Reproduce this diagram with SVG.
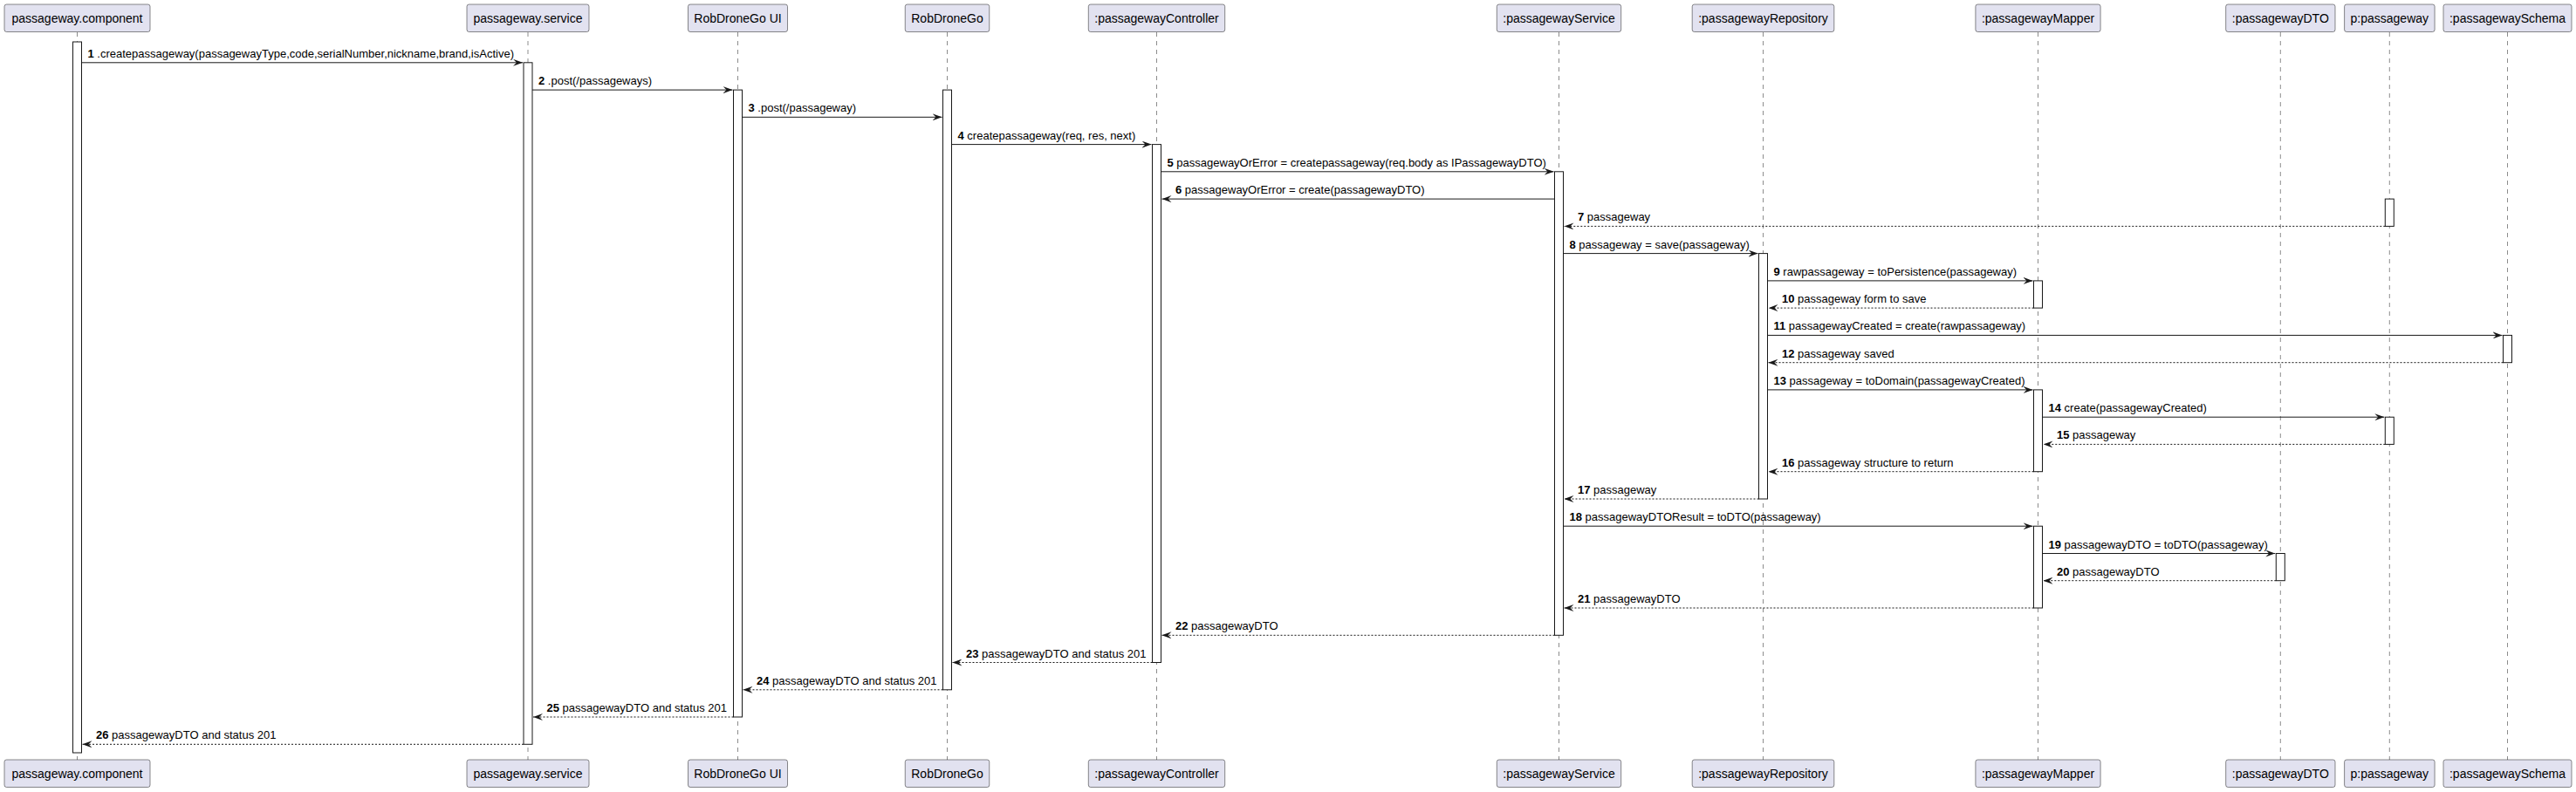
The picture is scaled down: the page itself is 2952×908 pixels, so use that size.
<svg xmlns="http://www.w3.org/2000/svg" width="2952" height="908" viewBox="0 0 2952 908">
<style>
.box{fill:#E2E2F0;stroke:#181818;stroke-width:0.5}
.pt{font-family:"Liberation Sans",Arial,sans-serif;font-size:14px;text-anchor:middle;fill:#000}
.life{stroke:#181818;stroke-width:0.5;stroke-dasharray:5,5;fill:none}
.act{fill:#FFFFFF;stroke:#181818;stroke-width:1}
.msg{stroke:#181818;stroke-width:1;fill:none;marker-end:url(#ah)}
.ret{stroke-dasharray:2,2}
.lbl{font-family:"Liberation Sans",Arial,sans-serif;font-size:13px;fill:#000}
.num{font-weight:bold}
</style>
<defs>
<marker id="ah" viewBox="0 0 11 8" refX="11" refY="4" markerWidth="11" markerHeight="8" markerUnits="userSpaceOnUse" orient="auto">
<path d="M0,0 L11,4 L0,8 L4,4 Z" fill="#181818"/>
</marker>
</defs>
<rect width="2952" height="908" fill="#FFFFFF"/>
<g id="lifelines">
<line class="life" x1="88.5" y1="37" x2="88.5" y2="871"/>
<line class="life" x1="605" y1="37" x2="605" y2="871"/>
<line class="life" x1="845.5" y1="37" x2="845.5" y2="871"/>
<line class="life" x1="1085.5" y1="37" x2="1085.5" y2="871"/>
<line class="life" x1="1325.5" y1="37" x2="1325.5" y2="871"/>
<line class="life" x1="1786.5" y1="37" x2="1786.5" y2="871"/>
<line class="life" x1="2020.5" y1="37" x2="2020.5" y2="871"/>
<line class="life" x1="2335.5" y1="37" x2="2335.5" y2="871"/>
<line class="life" x1="2613.3" y1="37" x2="2613.3" y2="871"/>
<line class="life" x1="2738.3" y1="37" x2="2738.3" y2="871"/>
<line class="life" x1="2873.5" y1="37" x2="2873.5" y2="871"/>
</g>
<g id="p-component">
<rect class="box" x="5" y="5" width="167" height="31.5" rx="2.5"/>
<text class="pt" x="88.5" y="26">passageway.component</text>
<rect class="box" x="5" y="871" width="167" height="31.5" rx="2.5"/>
<text class="pt" x="88.5" y="892">passageway.component</text>
<rect class="act" x="83.5" y="48" width="10" height="815"/>
</g>
<g id="p-service">
<rect class="box" x="535" y="5" width="140" height="31.5" rx="2.5"/>
<text class="pt" x="605" y="26">passageway.service</text>
<rect class="box" x="535" y="871" width="140" height="31.5" rx="2.5"/>
<text class="pt" x="605" y="892">passageway.service</text>
<rect class="act" x="600" y="71.8" width="10" height="781.5"/>
</g>
<g id="p-ui">
<rect class="box" x="788.5" y="5" width="114" height="31.5" rx="2.5"/>
<text class="pt" x="845.5" y="26">RobDroneGo UI</text>
<rect class="box" x="788.5" y="871" width="114" height="31.5" rx="2.5"/>
<text class="pt" x="845.5" y="892">RobDroneGo UI</text>
<rect class="act" x="840.5" y="103.1" width="10" height="718.9"/>
</g>
<g id="p-robdronego">
<rect class="box" x="1037.25" y="5" width="96.5" height="31.5" rx="2.5"/>
<text class="pt" x="1085.5" y="26">RobDroneGo</text>
<rect class="box" x="1037.25" y="871" width="96.5" height="31.5" rx="2.5"/>
<text class="pt" x="1085.5" y="892">RobDroneGo</text>
<rect class="act" x="1080.5" y="103.1" width="10" height="687.7"/>
</g>
<g id="p-controller">
<rect class="box" x="1247.3" y="5" width="156.4" height="31.5" rx="2.5"/>
<text class="pt" x="1325.5" y="26">:passagewayController</text>
<rect class="box" x="1247.3" y="871" width="156.4" height="31.5" rx="2.5"/>
<text class="pt" x="1325.5" y="892">:passagewayController</text>
<rect class="act" x="1320.5" y="165.6" width="10" height="593.9"/>
</g>
<g id="p-pservice">
<rect class="box" x="1715.3" y="5" width="142.4" height="31.5" rx="2.5"/>
<text class="pt" x="1786.5" y="26">:passagewayService</text>
<rect class="box" x="1715.3" y="871" width="142.4" height="31.5" rx="2.5"/>
<text class="pt" x="1786.5" y="892">:passagewayService</text>
<rect class="act" x="1781.5" y="196.8" width="10" height="531.5"/>
</g>
<g id="p-repository">
<rect class="box" x="1939.2" y="5" width="162.6" height="31.5" rx="2.5"/>
<text class="pt" x="2020.5" y="26">:passagewayRepository</text>
<rect class="box" x="1939.2" y="871" width="162.6" height="31.5" rx="2.5"/>
<text class="pt" x="2020.5" y="892">:passagewayRepository</text>
<rect class="act" x="2015.5" y="290.6" width="10" height="281.4"/>
</g>
<g id="p-mapper">
<rect class="box" x="2263.9" y="5" width="143.2" height="31.5" rx="2.5"/>
<text class="pt" x="2335.5" y="26">:passagewayMapper</text>
<rect class="box" x="2263.9" y="871" width="143.2" height="31.5" rx="2.5"/>
<text class="pt" x="2335.5" y="892">:passagewayMapper</text>
<rect class="act" x="2330.5" y="321.9" width="10" height="31.2"/>
<rect class="act" x="2330.5" y="446.9" width="10" height="93.8"/>
<rect class="act" x="2330.5" y="603.2" width="10" height="93.8"/>
</g>
<g id="p-dto">
<rect class="box" x="2550.7" y="5" width="125.3" height="31.5" rx="2.5"/>
<text class="pt" x="2613.3" y="26">:passagewayDTO</text>
<rect class="box" x="2550.7" y="871" width="125.3" height="31.5" rx="2.5"/>
<text class="pt" x="2613.3" y="892">:passagewayDTO</text>
<rect class="act" x="2608.3" y="634.5" width="10" height="31.2"/>
</g>
<g id="p-passageway">
<rect class="box" x="2686.6" y="5" width="103.5" height="31.5" rx="2.5"/>
<text class="pt" x="2738.3" y="26">p:passageway</text>
<rect class="box" x="2686.6" y="871" width="103.5" height="31.5" rx="2.5"/>
<text class="pt" x="2738.3" y="892">p:passageway</text>
<rect class="act" x="2733.3" y="228.1" width="10" height="31.3"/>
<rect class="act" x="2733.3" y="478.2" width="10" height="31.2"/>
</g>
<g id="p-schema">
<rect class="box" x="2800" y="5" width="147" height="31.5" rx="2.5"/>
<text class="pt" x="2873.5" y="26">:passagewaySchema</text>
<rect class="box" x="2800" y="871" width="147" height="31.5" rx="2.5"/>
<text class="pt" x="2873.5" y="892">:passagewaySchema</text>
<rect class="act" x="2868.5" y="384.4" width="10" height="31.3"/>
</g>
<g id="connectors">
<line class="msg" x1="93.5" y1="71.8" x2="599" y2="71.8"/>
<text class="lbl" x="100.5" y="65.8"><tspan class="num">1</tspan> .createpassageway(passagewayType,code,serialNumber,nickname,brand,isActive)</text>
<line class="msg" x1="610" y1="103.1" x2="839.5" y2="103.1"/>
<text class="lbl" x="617" y="97.1"><tspan class="num">2</tspan> .post(/passageways)</text>
<line class="msg" x1="850.5" y1="134.3" x2="1079.5" y2="134.3"/>
<text class="lbl" x="857.5" y="128.3"><tspan class="num">3</tspan> .post(/passageway)</text>
<line class="msg" x1="1090.5" y1="165.6" x2="1319.5" y2="165.6"/>
<text class="lbl" x="1097.5" y="159.6"><tspan class="num">4</tspan> createpassageway(req, res, next)</text>
<line class="msg" x1="1330.5" y1="196.8" x2="1780.5" y2="196.8"/>
<text class="lbl" x="1337.5" y="190.8"><tspan class="num">5</tspan> passagewayOrError = createpassageway(req.body as IPassagewayDTO)</text>
<line class="msg" x1="1781.5" y1="228.1" x2="1331.5" y2="228.1"/>
<text class="lbl" x="1347" y="222.1"><tspan class="num">6</tspan> passagewayOrError = create(passagewayDTO)</text>
<line class="msg ret" x1="2733.3" y1="259.4" x2="1792.5" y2="259.4"/>
<text class="lbl" x="1808" y="253.4"><tspan class="num">7</tspan> passageway</text>
<line class="msg" x1="1791.5" y1="290.6" x2="2014.5" y2="290.6"/>
<text class="lbl" x="1798.5" y="284.6"><tspan class="num">8</tspan> passageway = save(passageway)</text>
<line class="msg" x1="2025.5" y1="321.9" x2="2329.5" y2="321.9"/>
<text class="lbl" x="2032.5" y="315.9"><tspan class="num">9</tspan> rawpassageway = toPersistence(passageway)</text>
<line class="msg ret" x1="2330.5" y1="353.1" x2="2026.5" y2="353.1"/>
<text class="lbl" x="2042" y="347.1"><tspan class="num">10</tspan> passageway form to save</text>
<line class="msg" x1="2025.5" y1="384.4" x2="2867.5" y2="384.4"/>
<text class="lbl" x="2032.5" y="378.4"><tspan class="num">11</tspan> passagewayCreated = create(rawpassageway)</text>
<line class="msg ret" x1="2868.5" y1="415.7" x2="2026.5" y2="415.7"/>
<text class="lbl" x="2042" y="409.7"><tspan class="num">12</tspan> passageway saved</text>
<line class="msg" x1="2025.5" y1="446.9" x2="2329.5" y2="446.9"/>
<text class="lbl" x="2032.5" y="440.9"><tspan class="num">13</tspan> passageway = toDomain(passagewayCreated)</text>
<line class="msg" x1="2340.5" y1="478.2" x2="2732.3" y2="478.2"/>
<text class="lbl" x="2347.5" y="472.2"><tspan class="num">14</tspan> create(passagewayCreated)</text>
<line class="msg ret" x1="2733.3" y1="509.4" x2="2341.5" y2="509.4"/>
<text class="lbl" x="2357" y="503.4"><tspan class="num">15</tspan> passageway</text>
<line class="msg ret" x1="2330.5" y1="540.7" x2="2026.5" y2="540.7"/>
<text class="lbl" x="2042" y="534.7"><tspan class="num">16</tspan> passageway structure to return</text>
<line class="msg ret" x1="2015.5" y1="572" x2="1792.5" y2="572"/>
<text class="lbl" x="1808" y="566"><tspan class="num">17</tspan> passageway</text>
<line class="msg" x1="1791.5" y1="603.2" x2="2329.5" y2="603.2"/>
<text class="lbl" x="1798.5" y="597.2"><tspan class="num">18</tspan> passagewayDTOResult = toDTO(passageway)</text>
<line class="msg" x1="2340.5" y1="634.5" x2="2607.3" y2="634.5"/>
<text class="lbl" x="2347.5" y="628.5"><tspan class="num">19</tspan> passagewayDTO = toDTO(passageway)</text>
<line class="msg ret" x1="2608.3" y1="665.7" x2="2341.5" y2="665.7"/>
<text class="lbl" x="2357" y="659.7"><tspan class="num">20</tspan> passagewayDTO</text>
<line class="msg ret" x1="2330.5" y1="697" x2="1792.5" y2="697"/>
<text class="lbl" x="1808" y="691"><tspan class="num">21</tspan> passagewayDTO</text>
<line class="msg ret" x1="1781.5" y1="728.3" x2="1331.5" y2="728.3"/>
<text class="lbl" x="1347" y="722.3"><tspan class="num">22</tspan> passagewayDTO</text>
<line class="msg ret" x1="1320.5" y1="759.5" x2="1091.5" y2="759.5"/>
<text class="lbl" x="1107" y="753.5"><tspan class="num">23</tspan> passagewayDTO and status 201</text>
<line class="msg ret" x1="1080.5" y1="790.8" x2="851.5" y2="790.8"/>
<text class="lbl" x="867" y="784.8"><tspan class="num">24</tspan> passagewayDTO and status 201</text>
<line class="msg ret" x1="840.5" y1="822" x2="611" y2="822"/>
<text class="lbl" x="626.5" y="816"><tspan class="num">25</tspan> passagewayDTO and status 201</text>
<line class="msg ret" x1="600" y1="853.3" x2="94.5" y2="853.3"/>
<text class="lbl" x="110" y="847.3"><tspan class="num">26</tspan> passagewayDTO and status 201</text>
</g>
</svg>
